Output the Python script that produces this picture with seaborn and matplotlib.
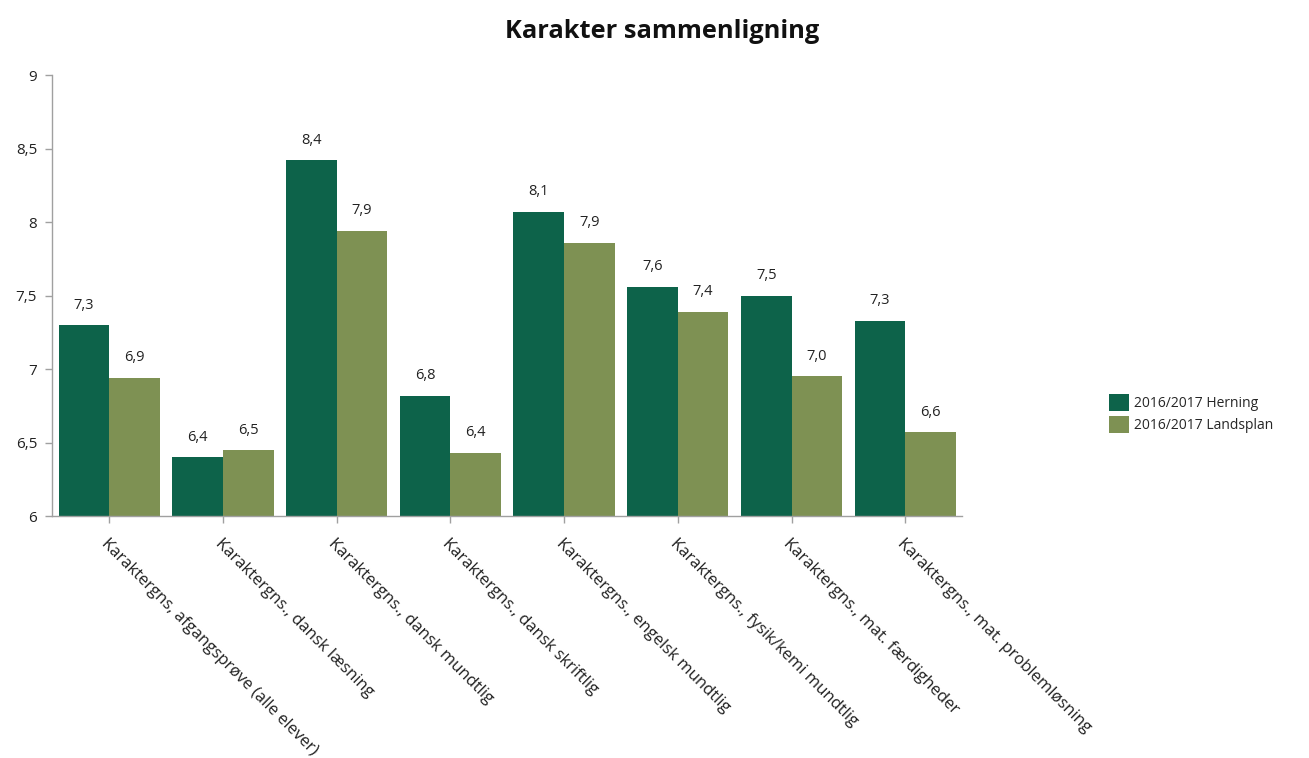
import matplotlib
matplotlib.use("Agg")
import matplotlib.pyplot as plt
import seaborn as sns
import pandas as pd
from matplotlib.ticker import FuncFormatter

categories = [
    "Karaktergns, afgangsprøve (alle elever)",
    "Karaktergns., dansk læsning",
    "Karaktergns., dansk mundtlig",
    "Karaktergns., dansk skriftlig",
    "Karaktergns., engelsk mundtlig",
    "Karaktergns., fysik/kemi mundtlig",
    "Karaktergns., mat. færdigheder",
    "Karaktergns., mat. problemløsning",
]
herning = [7.30, 6.40, 8.42, 6.82, 8.07, 7.56, 7.50, 7.33]
landsplan = [6.94, 6.45, 7.94, 6.43, 7.86, 7.39, 6.95, 6.57]
series_names = ["2016/2017 Herning", "2016/2017 Landsplan"]
yticks = [6, 6.5, 7, 7.5, 8, 8.5, 9]

df = pd.DataFrame({
    "Kategori": categories * 2,
    "Værdi": herning + landsplan,
    "Serie": [series_names[0]] * len(categories) + [series_names[1]] * len(categories),
})

sns.set_theme(style="white")
plt.rcParams["font.family"] = ["Open Sans", "DejaVu Sans"]

fig = plt.figure(figsize=(13.09, 7.58), dpi=100)
ax = fig.add_axes([0.040, 0.319, 0.695, 0.582])

palette = {series_names[0]: "#0d634a", series_names[1]: "#7e9153"}
sns.barplot(data=df, x="Kategori", y="Værdi", hue="Serie", palette=palette,
            width=0.89, gap=0, saturation=1, linewidth=0, ax=ax, legend=True)

ax.set_ylim(6, 9)
ax.set_yticks(yticks)
fmt = lambda v, p=None: (f"{v:g}").replace(".", ",")
ax.yaxis.set_major_formatter(FuncFormatter(fmt))
ax.set_xlabel("")
ax.set_ylabel("")

for cont in ax.containers:
    ax.bar_label(cont, labels=[f"{v:.1f}".replace(".", ",") for v in cont.datavalues],
                 padding=9, fontsize=10.5, color="#222222")

for s in ["top", "right"]:
    ax.spines[s].set_visible(False)
for s in ["left", "bottom"]:
    ax.spines[s].set_color("#a0a0a0")
    ax.spines[s].set_linewidth(1)

ax.tick_params(axis="y", which="major", left=True, length=5, width=1, color="#a0a0a0",
               labelsize=11, labelcolor="#222222", pad=6)
ax.tick_params(axis="x", which="major", bottom=True, length=5, width=1, color="#a0a0a0",
               labelsize=12, labelcolor="#222222", pad=9)
ax.set_xticks(range(len(categories)))
ax.set_xticklabels(categories, rotation=-45, ha="left", va="top", rotation_mode="anchor")
ax.set_xlim(-0.5, len(categories) - 0.5)

ax.set_title("Karakter sammenligning", fontsize=18.3, fontweight="bold", pad=27, color="#111111",
             x=0.67)

leg = ax.legend(loc="center left", bbox_to_anchor=(1.148, 0.232), frameon=False,
                fontsize=10, handlelength=1.45, handleheight=1.5, handletextpad=0.3,
                labelspacing=0.35)

fig.savefig("out.png", dpi=100)
